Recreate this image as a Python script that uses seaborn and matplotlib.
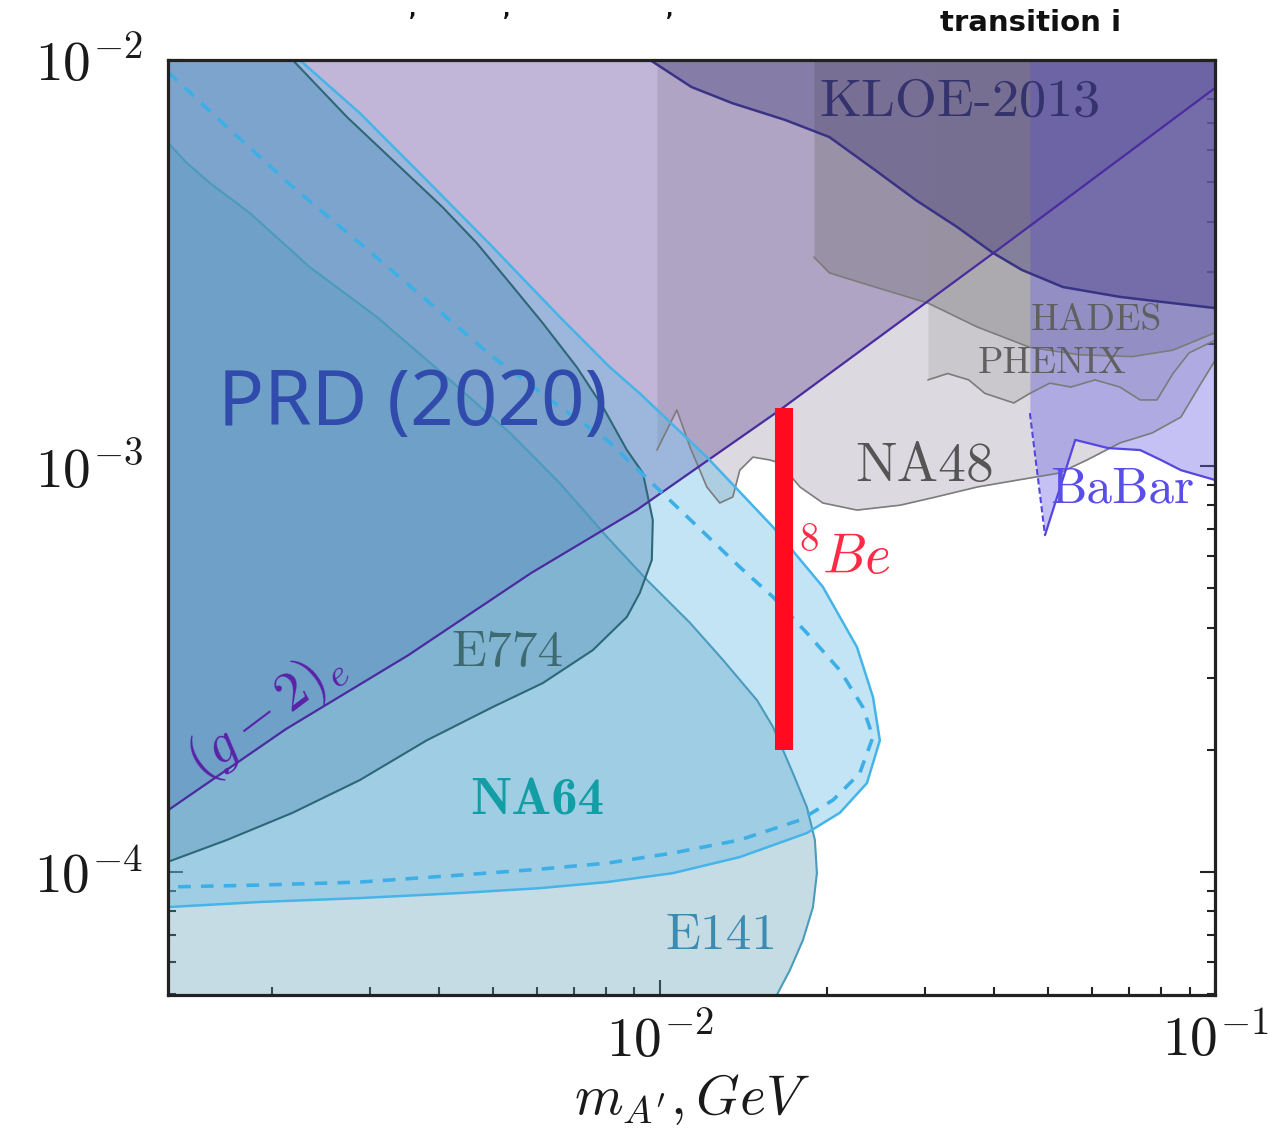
import numpy as np
import matplotlib
matplotlib.use('Agg')
import matplotlib.pyplot as plt
import seaborn as sns
from matplotlib.ticker import LogLocator, NullFormatter, FuncFormatter

sns.set_style('ticks')
plt.rcParams['mathtext.fontset'] = 'cm'
plt.rcParams['font.family'] = ['DejaVu Sans']

# axis range (GeV, epsilon)
m_min, m_max = 1.3e-3, 1.0e-1
eps_min, eps_max = 4.98e-5, 1.0e-2

# (g-2)_e bound
g2_m = [1.30e-3, 2.12e-3, 3.52e-3, 5.86e-3, 9.09e-3, 1.64e-2, 4.10e-2, 1.0e-1]
g2_eps = [1.42e-4, 2.25e-4, 3.42e-4, 5.45e-4, 7.80e-4, 1.37e-3, 3.44e-3, 8.53e-3]

# KLOE-2013
kloe_m = [9.6e-3, 1.14e-2, 1.35e-2, 1.68e-2, 2.02e-2, 2.44e-2, 2.89e-2, 3.43e-2,
          3.98e-2, 4.49e-2, 5.32e-2, 6.74e-2, 7.96e-2, 1.0e-1]
kloe_eps = [1.0e-2, 8.58e-3, 7.83e-3, 7.12e-3, 6.46e-3, 5.36e-3, 4.52e-3, 3.88e-3,
            3.35e-3, 3.04e-3, 2.76e-3, 2.61e-3, 2.54e-3, 2.45e-3]

# NA48
na48_m = [9.88e-3, 1.073e-2, 1.133e-2, 1.215e-2, 1.282e-2, 1.353e-2, 1.393e-2, 1.471e-2,
          1.578e-2, 1.645e-2, 1.788e-2, 1.966e-2, 2.265e-2, 2.71e-2, 3.14e-2, 3.73e-2,
          4.42e-2, 5.24e-2, 5.88e-2, 6.74e-2, 7.70e-2, 8.68e-2, 9.44e-2, 1.0e-1]
na48_eps = [1.095e-3, 1.374e-3, 1.114e-3, 8.88e-4, 8.11e-4, 8.39e-4, 9.77e-4, 1.052e-3,
            1.035e-3, 1.017e-3, 8.88e-4, 8.11e-4, 7.79e-4, 8.01e-4, 8.39e-4, 8.88e-4,
            9.24e-4, 9.61e-4, 1.035e-3, 1.14e-3, 1.206e-3, 1.32e-3, 1.60e-3, 1.82e-3]

# HADES
hades_m = [1.895e-2, 2.02e-2, 2.44e-2, 3.04e-2, 3.73e-2, 4.64e-2, 5.69e-2, 7.09e-2, 8.40e-2, 1.0e-1]
hades_eps = [3.27e-3, 2.99e-3, 2.76e-3, 2.52e-3, 2.20e-3, 1.96e-3, 1.88e-3, 1.86e-3, 1.93e-3, 2.13e-3]

# PHENIX
phenix_m = [3.04e-2, 3.30e-2, 3.60e-2, 3.85e-2, 4.34e-2, 4.64e-2, 5.04e-2, 5.50e-2,
            6.08e-2, 6.74e-2, 7.33e-2, 7.86e-2, 8.40e-2, 8.98e-2, 1.0e-1]
phenix_eps = [1.63e-3, 1.69e-3, 1.63e-3, 1.51e-3, 1.43e-3, 1.51e-3, 1.60e-3, 1.565e-3,
              1.63e-3, 1.565e-3, 1.455e-3, 1.455e-3, 1.69e-3, 1.90e-3, 2.04e-3]

# BaBar
babar_m = [4.64e-2, 4.94e-2, 5.60e-2, 6.42e-2, 7.33e-2, 7.99e-2, 8.68e-2, 1.0e-1]
babar_eps = [1.35e-3, 6.76e-4, 1.16e-3, 1.107e-3, 1.095e-3, 1.035e-3, 9.77e-4, 9.24e-4]

# E141
e141_m = [1.30e-3, 1.405e-3, 1.546e-3, 1.825e-3, 2.34e-3, 3.09e-3, 4.06e-3, 5.37e-3,
          6.60e-3, 8.03e-3, 9.48e-3, 1.133e-2, 1.299e-2, 1.496e-2, 1.598e-2, 1.737e-2,
          1.84e-2, 1.902e-2, 1.918e-2, 1.887e-2, 1.81e-2, 1.715e-2, 1.624e-2, 1.58e-2]
e141_eps = [6.25e-3, 5.58e-3, 4.98e-3, 4.20e-3, 3.09e-3, 2.33e-3, 1.69e-3, 1.206e-3,
            9.08e-4, 6.69e-4, 5.24e-4, 4.11e-4, 3.33e-4, 2.65e-4, 2.28e-4, 1.75e-4,
            1.445e-4, 1.20e-4, 9.94e-5, 8.20e-5, 6.80e-5, 5.74e-5, 4.98e-5, 4.7e-5]

# E774
e774_m = [2.18e-3, 2.73e-3, 3.30e-3, 4.06e-3, 4.68e-3, 5.37e-3, 6.15e-3, 7.09e-3,
          7.89e-3, 8.72e-3, 9.32e-3, 9.71e-3, 9.67e-3, 9.20e-3, 8.72e-3, 7.57e-3,
          6.15e-3, 5.00e-3, 3.80e-3, 2.88e-3, 2.18e-3, 1.66e-3, 1.30e-3]
e774_eps = [1.0e-2, 7.24e-3, 5.67e-3, 4.34e-3, 3.54e-3, 2.82e-3, 2.25e-3, 1.75e-3,
            1.40e-3, 1.095e-3, 9.61e-4, 7.36e-4, 5.87e-4, 4.87e-4, 4.25e-4, 3.52e-4,
            2.92e-4, 2.55e-4, 2.11e-4, 1.685e-4, 1.40e-4, 1.20e-4, 1.06e-4]

# NA64 (solid = excluded region)
na64_m = [2.245e-3, 2.88e-3, 3.80e-3, 5.00e-3, 6.60e-3, 8.13e-3, 9.20e-3, 1.215e-2,
          1.598e-2, 1.966e-2, 2.265e-2, 2.42e-2, 2.49e-2, 2.36e-2, 2.11e-2, 1.84e-2,
          1.393e-2, 1.055e-2, 8.03e-3, 6.08e-3, 4.36e-3, 2.88e-3, 1.90e-3, 1.30e-3]
na64_eps = [1.0e-2, 7.40e-3, 5.06e-3, 3.46e-3, 2.33e-3, 1.75e-3, 1.51e-3, 1.052e-3,
            7.08e-4, 5.04e-4, 3.58e-4, 2.70e-4, 2.11e-4, 1.656e-4, 1.40e-4, 1.248e-4,
            1.089e-4, 9.94e-5, 9.45e-5, 9.13e-5, 8.88e-5, 8.63e-5, 8.44e-5, 8.20e-5]

# NA64 dashed
na64d_m = [1.30e-3, 1.66e-3, 2.18e-3, 2.88e-3, 3.80e-3, 5.00e-3, 6.60e-3, 8.03e-3,
           1.055e-2, 1.393e-2, 1.598e-2, 1.84e-2, 2.11e-2, 2.32e-2, 2.42e-2, 2.29e-2,
           2.05e-2, 1.788e-2, 1.393e-2, 1.055e-2, 8.03e-3, 6.08e-3, 4.36e-3, 2.88e-3,
           1.90e-3, 1.30e-3]
na64d_eps = [9.34e-3, 6.84e-3, 4.87e-3, 3.54e-3, 2.56e-3, 1.856e-3, 1.40e-3, 1.159e-3,
             8.11e-4, 5.64e-4, 4.76e-4, 3.88e-4, 3.14e-4, 2.55e-4, 2.15e-4, 1.75e-4,
             1.504e-4, 1.343e-4, 1.20e-4, 1.114e-4, 1.052e-4, 1.017e-4, 9.83e-5, 9.45e-5,
             9.29e-5, 9.19e-5]

# 8Be anomaly
be8_m = [1.67e-2, 1.67e-2]
be8_eps = [2.0e-4, 1.39e-3]

fig = plt.figure(figsize=(12.7, 11.32), dpi=100)
ax = fig.add_axes([0.1323, 0.1210, 0.8244, 0.8260])
ax.set_xscale('log')
ax.set_yscale('log')

# shaded regions
ax.fill_between(g2_m, g2_eps, eps_max, color='#c1b5d8', lw=0, zorder=1)
ax.fill_between(na48_m, na48_eps, eps_max, color='#827b90', alpha=0.28, lw=0, zorder=1)
ax.fill_between(hades_m, hades_eps, eps_max, color='#787678', alpha=0.4, lw=0, zorder=1)
ax.fill_between(phenix_m, phenix_eps, eps_max, color='#969498', alpha=0.25, lw=0, zorder=1)
ax.fill_between(babar_m, babar_eps, eps_max, color='#6e64e6', alpha=0.4, lw=0, zorder=1)
ax.fill_between(kloe_m, kloe_eps, eps_max, color='#3c3278', alpha=0.35, lw=0, zorder=1)
ax.fill_betweenx(e141_eps, m_min, e141_m, color='#5c9bb2', alpha=0.35, lw=0, zorder=2)
ax.fill_betweenx(e774_eps, m_min, e774_m, color='#34648e', alpha=0.35, lw=0, zorder=2)
ax.fill_betweenx(na64_eps, m_min, na64_m, color='#61b8e5', alpha=0.38, lw=0, zorder=2)


def curve(m, eps, **kw):
    sns.lineplot(x=m, y=eps, sort=False, estimator=None, ax=ax, legend=False, **kw)


curve(na48_m, na48_eps, color='#7c7c7c', lw=1.2)
curve(hades_m, hades_eps, color='#7c7c7c', lw=1.2)
curve(phenix_m, phenix_eps, color='#7c7c7c', lw=1.2)
curve(kloe_m, kloe_eps, color='#3a3385', lw=1.8)
curve(babar_m[:2], babar_eps[:2], color='#5546e0', lw=1.5, linestyle=(0, (3, 1.5)))
curve(babar_m[1:], babar_eps[1:], color='#5546e0', lw=1.6)
curve(e141_m, e141_eps, color='#4a9bbd', lw=1.5)
curve(e774_m, e774_eps, color='#2e6878', lw=1.5)
curve(g2_m, g2_eps, color='#4b2ca0', lw=1.6)
curve(na64_m, na64_eps, color='#45b4e8', lw=1.8)
curve(na64d_m, na64d_eps, color='#3cb0e6', lw=2.6, linestyle=(0, (3.5, 2.8)))
curve(be8_m, be8_eps, color='#ff0a1e', lw=13, solid_capstyle='butt')

ax.set_xlim(m_min, m_max)
ax.set_ylim(eps_min, eps_max)

# ticks
ax.xaxis.set_major_locator(LogLocator(base=10, numticks=10))
ax.yaxis.set_major_locator(LogLocator(base=10, numticks=10))
ax.xaxis.set_minor_locator(LogLocator(base=10, subs=np.arange(2, 10), numticks=40))
ax.yaxis.set_minor_locator(LogLocator(base=10, subs=np.arange(2, 10), numticks=40))
fmt = FuncFormatter(lambda v, p: r'$10^{%d}$' % int(round(np.log10(v))))
ax.xaxis.set_major_formatter(fmt)
ax.yaxis.set_major_formatter(fmt)
ax.xaxis.set_minor_formatter(NullFormatter())
ax.yaxis.set_minor_formatter(NullFormatter())
ax.tick_params(which='both', direction='in', top=True, right=True, width=1.5, color='#222222')
ax.tick_params(which='major', length=11, labelsize=40, labelcolor='#1a1a1a')
ax.tick_params(which='minor', length=6)
ax.tick_params(axis='x', which='major', pad=14)
ax.tick_params(axis='y', which='major', pad=18)
for s in ax.spines.values():
    s.set_linewidth(2.3)
    s.set_color('#222222')

ax.set_xlabel(r"$m_{A'}, GeV$", fontsize=40, labelpad=2, color='#1a1a1a')

# labels inside plot
tx = ax.transAxes
ax.text(0.7565, 0.9551, 'KLOE-2013', transform=tx, fontsize=39, family='cmr10',
        color='#35336e', ha='center', va='center')
ax.text(0.8873, 0.7219, 'HADES', transform=tx, fontsize=27, family='cmr10',
        color='#606060', ha='center', va='center')
ax.text(0.8443, 0.6759, 'PHENIX', transform=tx, fontsize=27, family='cmr10',
        color='#606060', ha='center', va='center')
ax.text(0.7230, 0.5647, 'NA48', transform=tx, fontsize=40, family='cmr10',
        color='#555555', ha='center', va='center')
ax.text(0.8424, 0.5401, 'BaBar', transform=tx, fontsize=37, family='cmr10',
        color='#5a4ee8', ha='left', va='center', clip_on=True)
ax.text(0.3247, 0.3658, 'E774', transform=tx, fontsize=37, family='cmr10',
        color='#3e6a72', ha='center', va='center')
ax.text(0.3524, 0.2075, 'NA64', transform=tx, fontsize=38, family='cmb10',
        color='#139ea6', ha='center', va='center')
ax.text(0.5291, 0.0631, 'E141', transform=tx, fontsize=37, family='cmr10',
        color='#3a8cb0', ha='center', va='center')
ax.text(0.0935, 0.3000, r'$(g-2)_e$', transform=tx, fontsize=40,
        color='#5a22a8', ha='center', va='center', rotation=37)
ax.text(0.6008, 0.4674, r'$^{8}Be$', transform=tx, fontsize=40,
        color='#ff2a45', ha='left', va='center')
ax.text(0.0478, 0.631, 'PRD (2020)', transform=tx, fontsize=55, family='Noto Sans',
        color='#304bab', ha='left', va='center')

# leftover slide text along the top edge
fig.text(940 / 1270, 1 - 31 / 1132, 'transition i', fontsize=21, fontweight='bold',
         color='#111111', ha='left', va='baseline')
for xc in [413, 507, 670]:
    fig.text(xc / 1270, 1 - 1 / 1132, ',', fontsize=14, fontweight='bold',
             color='#111111', ha='center', va='top')

fig.savefig('out.png', dpi=100, facecolor='white')
